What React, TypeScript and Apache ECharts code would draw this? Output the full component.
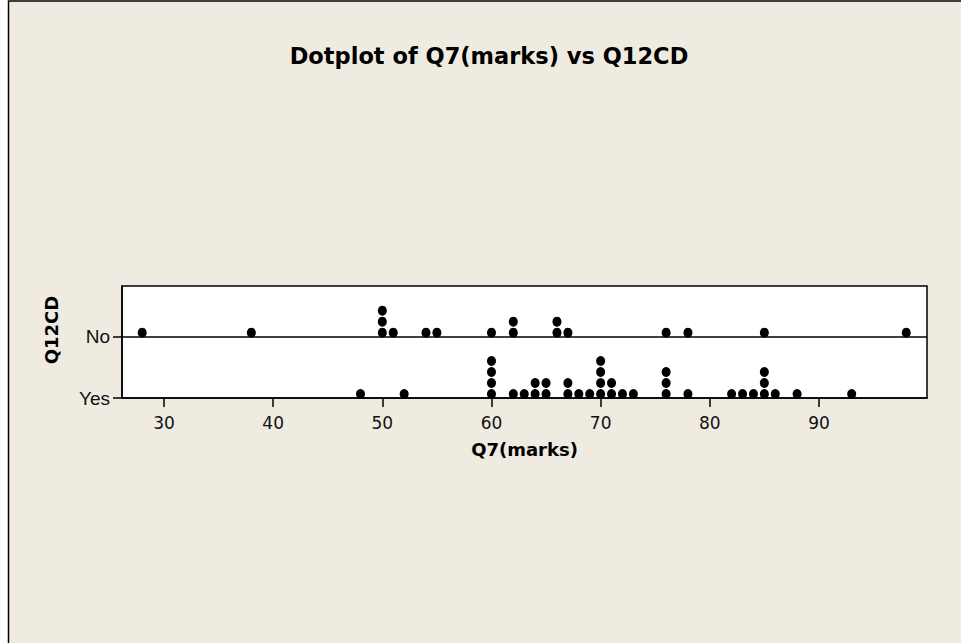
import React, { useEffect, useRef } from "react";
import * as echarts from "echarts";

const chartTitle = "Dotplot of Q7(marks) vs Q12CD";
const xName = "Q7(marks)";
const yName = "Q12CD";
const groups = ["Yes", "No"];
const xTicks = [30, 40, 50, 60, 70, 80, 90];
const yTicks = [0, 1];
const noMarks = [28, 38, 50, 50, 50, 51, 54, 55, 60, 62, 62, 66, 66, 67, 76, 78, 85, 98];
const yesMarks = [
  48, 52, 60, 60, 60, 60, 62, 63, 64, 64, 65, 65, 67, 67, 68, 69, 70, 70, 70, 70,
  71, 71, 72, 73, 76, 76, 76, 78, 82, 83, 84, 85, 85, 85, 86, 88, 93,
];

function stackDots(values: number[], groupIndex: number) {
  const counts: Record<number, number> = {};
  return values.map((v) => {
    const k = counts[v] || 0;
    counts[v] = k + 1;
    return { value: [v, groupIndex], symbolOffset: [0, -(4 + 11 * k)] };
  });
}

export default function App() {
  const ref = useRef<HTMLDivElement>(null);
  useEffect(() => {
    if (!ref.current) return;
    const chart = echarts.init(ref.current, undefined, { renderer: "svg" });
    const dotStyle = { color: "#000", opacity: 1 };
    chart.setOption({
      animation: false,
      backgroundColor: "#ffffff",
      graphic: [
        {
          type: "rect",
          z: -10,
          shape: { x: 8.5, y: 1, width: 980, height: 660 },
          style: { fill: "#EFEBE0", stroke: "#000", lineWidth: 1.5 },
          silent: true,
        },
      ],
      title: {
        text: chartTitle,
        left: 489,
        textAlign: "center",
        top: 44,
        padding: 0,
        textStyle: {
          fontFamily: "DejaVu Sans",
          fontWeight: "bold",
          fontSize: 22.5,
          color: "#000",
        },
      },
      grid: {
        left: 122,
        top: 286,
        width: 805,
        height: 112,
        show: true,
        backgroundColor: "#fff",
        borderColor: "#000",
        borderWidth: 1.5,
      },
      xAxis: {
        type: "value",
        min: 26.15,
        max: 99.9,
        name: xName,
        nameLocation: "middle",
        nameGap: 42,
        nameTextStyle: {
          fontFamily: "DejaVu Sans",
          fontWeight: "bold",
          fontSize: 18,
          color: "#000",
        },
        axisLine: { show: true, lineStyle: { color: "#000", width: 1.5 } },
        axisTick: {
          show: true,
          length: 9,
          customValues: xTicks,
          lineStyle: { color: "#000", width: 1.5 },
        },
        axisLabel: {
          customValues: xTicks,
          fontFamily: "DejaVu Sans",
          fontSize: 17,
          color: "#111",
          margin: 16,
        },
        splitLine: { show: false },
      },
      yAxis: {
        type: "value",
        min: 0,
        max: 1.827,
        name: yName,
        nameLocation: "middle",
        nameGap: 62,
        nameTextStyle: {
          fontFamily: "DejaVu Sans",
          fontWeight: "bold",
          fontSize: 18,
          color: "#000",
          padding: [0, 0, 0, 24],
        },
        axisLine: { show: true, lineStyle: { color: "#000", width: 1.5 } },
        axisTick: {
          show: true,
          length: 9,
          customValues: yTicks,
          lineStyle: { color: "#000", width: 1.5 },
        },
        axisLabel: {
          customValues: yTicks,
          formatter: (v: number) => groups[Math.round(v)] ?? "",
          fontFamily: "Liberation Sans",
          fontSize: 19,
          color: "#111",
          margin: 12,
        },
        splitLine: { show: false },
      },
      series: [
        {
          type: "scatter",
          name: "Yes",
          symbol: "circle",
          symbolSize: [9, 10],
          itemStyle: dotStyle,
          data: stackDots(yesMarks, 0),
        },
        {
          type: "scatter",
          name: "No",
          symbol: "circle",
          symbolSize: [9, 10],
          itemStyle: dotStyle,
          data: stackDots(noMarks, 1),
          markLine: {
            silent: true,
            symbol: ["none", "none"],
            label: { show: false },
            lineStyle: { color: "#000", width: 1.5, type: "solid" },
            data: [{ yAxis: 1 }],
          },
        },
      ],
    });
    return () => chart.dispose();
  }, []);
  return (
    <div
      ref={ref}
      style={{ position: "absolute", left: 0, top: 0, width: 961, height: 643 }}
    />
  );
}
